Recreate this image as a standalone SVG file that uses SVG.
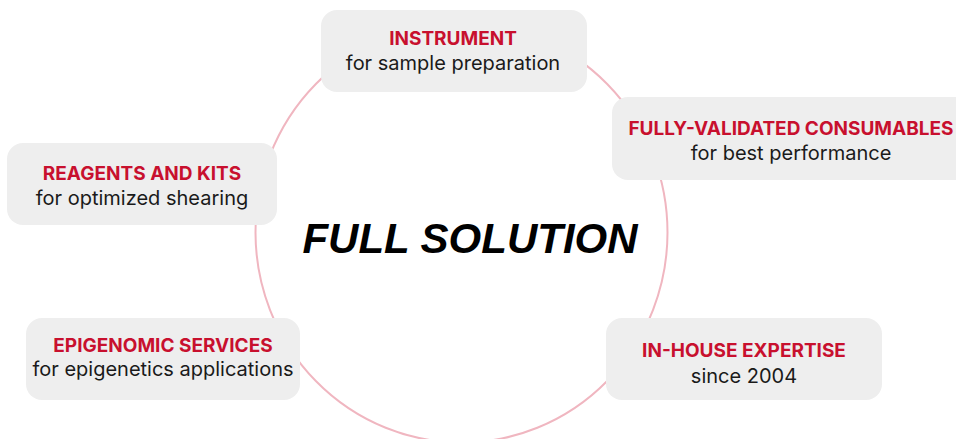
<svg xmlns="http://www.w3.org/2000/svg" width="956" height="439" viewBox="0 0 956 439">
<style>
.box{fill:#eeeeee}
.t{font-family:Inter,Roboto,"Liberation Sans",sans-serif;font-weight:700;font-size:19px;fill:#c8102e;text-anchor:middle}
.s{font-family:Inter,Roboto,"Liberation Sans",sans-serif;font-weight:400;font-size:20px;fill:#1a1a1a;text-anchor:middle}
.ring{fill:none;stroke:#f0b6c0;stroke-width:2}
</style>
<rect width="956" height="439" fill="#ffffff"/>
<g id="connectors">
<ellipse class="ring" cx="461.5" cy="232.5" rx="206" ry="210"/>
</g>
<g id="center">
<text x="470" y="253" font-family="'Liberation Sans',Arial,sans-serif" font-weight="700" font-style="italic" font-size="42" fill="#000" text-anchor="middle">FULL SOLUTION</text>
</g>
<g id="instrument">
<rect class="box" x="321" y="10" width="266" height="82" rx="16"/>
<text class="t" x="453" y="45">INSTRUMENT</text>
<text class="s" x="453" y="70">for sample preparation</text>
</g>
<g id="consumables">
<rect class="box" x="612" y="97" width="370" height="83" rx="16"/>
<text class="t" x="791" y="135">FULLY-VALIDATED CONSUMABLES</text>
<text class="s" x="791" y="160">for best performance</text>
</g>
<g id="reagents">
<rect class="box" x="7" y="143" width="270" height="82" rx="16"/>
<text class="t" x="142" y="180">REAGENTS AND KITS</text>
<text class="s" x="142" y="205">for optimized shearing</text>
</g>
<g id="services">
<rect class="box" x="26" y="318" width="274" height="82" rx="16"/>
<text class="t" x="163" y="352">EPIGENOMIC SERVICES</text>
<text class="s" x="163" y="376">for epigenetics applications</text>
</g>
<g id="expertise">
<rect class="box" x="606" y="318" width="276" height="82" rx="16"/>
<text class="t" x="744" y="357">IN-HOUSE EXPERTISE</text>
<text class="s" x="744" y="383">since 2004</text>
</g>
</svg>
